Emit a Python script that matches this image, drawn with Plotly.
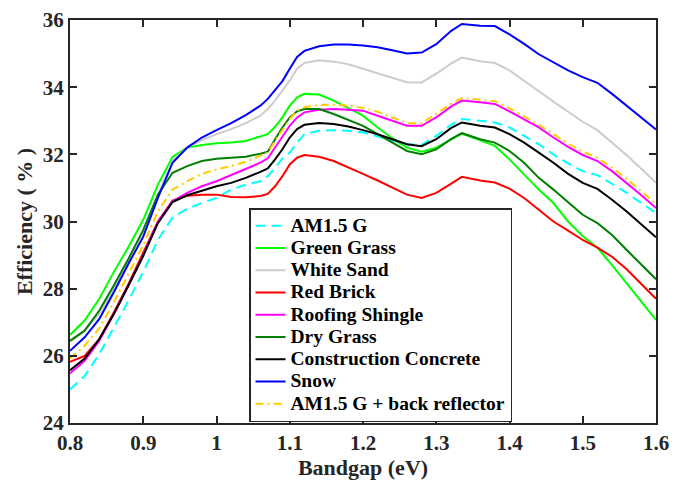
import plotly.graph_objects as go

# Bandgap grid (eV)
bandgap = [0.80, 0.82, 0.84, 0.86, 0.88, 0.90, 0.92, 0.94, 0.96, 0.98,
           1.00, 1.02, 1.04, 1.06, 1.07, 1.08, 1.09, 1.10, 1.11, 1.12,
           1.14, 1.16, 1.18, 1.20, 1.22, 1.24, 1.26, 1.28, 1.30, 1.32,
           1.335, 1.36, 1.38, 1.40, 1.42, 1.44, 1.46, 1.48, 1.50, 1.52,
           1.54, 1.56, 1.58, 1.60]

# Efficiency (%) under each illumination / ground albedo
am15g = [25.0, 25.4, 26.05, 26.85, 27.65, 28.5, 29.45, 30.12, 30.38, 30.55,
         30.7, 30.95, 31.1, 31.2, 31.35, 31.6, 31.88, 32.05, 32.35, 32.6,
         32.7, 32.72, 32.7, 32.65, 32.53, 32.42, 32.3, 32.28, 32.55, 32.88,
         33.05, 33.0, 32.95, 32.8, 32.56, 32.3, 32.0, 31.73, 31.5, 31.38,
         31.12, 30.85, 30.55, 30.25]
green_grass = [26.62, 27.05, 27.7, 28.5, 29.25, 30.05, 31.1, 31.92, 32.2, 32.28,
               32.33, 32.35, 32.4, 32.52, 32.6, 32.82, 33.1, 33.45, 33.7, 33.8,
               33.78, 33.6, 33.38, 33.15, 32.8, 32.48, 32.2, 32.08, 32.2, 32.45,
               32.62, 32.42, 32.25, 31.85, 31.4, 30.95, 30.55, 30.0, 29.57, 29.22,
               28.7, 28.16, 27.61, 27.07]
white_sand = [26.4, 26.75, 27.25, 28.0, 28.85, 29.7, 30.8, 31.8, 32.2, 32.42,
              32.6, 32.75, 32.93, 33.15, 33.35, 33.6, 33.9, 34.2, 34.55, 34.72,
              34.8, 34.76, 34.68, 34.55, 34.42, 34.28, 34.15, 34.14, 34.4, 34.7,
              34.88, 34.77, 34.72, 34.5, 34.2, 33.88, 33.57, 33.27, 32.97, 32.72,
              32.35, 31.97, 31.57, 31.15]
red_brick = [25.82, 26.0, 26.5, 27.3, 28.15, 29.05, 30.0, 30.62, 30.77, 30.8,
             30.8, 30.73, 30.72, 30.76, 30.82, 31.05, 31.35, 31.7, 31.9, 31.98,
             31.93, 31.8, 31.62, 31.42, 31.22, 31.02, 30.8, 30.7, 30.85, 31.12,
             31.33, 31.22, 31.16, 30.98, 30.7, 30.35, 30.0, 29.73, 29.45, 29.22,
             28.95, 28.58, 28.15, 27.7]
roofing_shingle = [25.48, 25.85, 26.45, 27.25, 28.1, 29.0, 30.0, 30.6, 30.85, 31.05,
                   31.2, 31.38, 31.55, 31.75, 31.88, 32.2, 32.52, 32.85, 33.1, 33.25,
                   33.33, 33.35, 33.33, 33.3, 33.15, 33.0, 32.85, 32.85, 33.1, 33.42,
                   33.6, 33.55, 33.5, 33.28, 33.05, 32.8, 32.5, 32.22, 31.98, 31.8,
                   31.5, 31.15, 30.78, 30.4]
dry_grass = [26.45, 26.75, 27.35, 28.1, 28.9, 29.75, 30.8, 31.45, 31.65, 31.8,
             31.87, 31.9, 31.93, 32.02, 32.08, 32.45, 32.8, 33.1, 33.28, 33.35,
             33.35, 33.2, 33.02, 32.85, 32.6, 32.35, 32.1, 32.0, 32.15, 32.45,
             32.63, 32.45, 32.35, 32.1, 31.75, 31.3, 30.95, 30.57, 30.2, 29.95,
             29.6, 29.15, 28.72, 28.28]
concrete = [25.57, 25.92, 26.5, 27.25, 28.1, 28.98, 29.95, 30.58, 30.78, 30.92,
            31.05, 31.15, 31.3, 31.48, 31.58, 31.85, 32.15, 32.5, 32.75, 32.88,
            32.93, 32.9, 32.83, 32.72, 32.6, 32.45, 32.3, 32.24, 32.45, 32.78,
            32.95, 32.85, 32.8, 32.6, 32.35, 32.05, 31.75, 31.42, 31.15, 30.97,
            30.65, 30.3, 29.92, 29.53]
snow = [26.15, 26.55, 27.1, 27.9, 28.75, 29.55, 30.7, 31.75, 32.2, 32.5,
        32.72, 32.93, 33.17, 33.45, 33.65, 33.9, 34.18, 34.55, 34.9, 35.08,
        35.22, 35.27, 35.27, 35.24, 35.19, 35.1, 35.0, 35.03, 35.28, 35.67,
        35.88, 35.83, 35.82, 35.57, 35.29, 34.98, 34.75, 34.5, 34.3, 34.13,
        33.8, 33.45, 33.1, 32.74]
am15g_reflector = [25.92, 26.3, 26.82, 27.6, 28.45, 29.3, 30.3, 30.95, 31.2, 31.42,
                   31.55, 31.65, 31.78, 31.95, 32.05, 32.4, 32.72, 33.05, 33.3, 33.4,
                   33.47, 33.48, 33.45, 33.38, 33.27, 33.1, 32.93, 32.92, 33.2, 33.5,
                   33.68, 33.63, 33.58, 33.37, 33.13, 32.88, 32.6, 32.32, 32.08, 31.9,
                   31.6, 31.27, 30.9, 30.53]

series_names = ["AM1.5 G", "Green Grass", "White Sand", "Red Brick",
                "Roofing Shingle", "Dry Grass", "Construction Concrete",
                "Snow", "AM1.5 G + back reflector"]
series_values = [am15g, green_grass, white_sand, red_brick, roofing_shingle,
                 dry_grass, concrete, snow, am15g_reflector]

x_tick_vals = [0.8, 0.9, 1.0, 1.1, 1.2, 1.3, 1.4, 1.5, 1.6]
x_tick_text = ["0.8", "0.9", "1", "1.1", "1.2", "1.3", "1.4", "1.5", "1.6"]
y_tick_vals = [24, 26, 28, 30, 32, 34, 36]

styles = [
    dict(color="#00FFFF", dash="10px,6px"),
    dict(color="#00FF00", dash="solid"),
    dict(color="#CCCCCC", dash="solid"),
    dict(color="#FF0000", dash="solid"),
    dict(color="#FF00FF", dash="solid"),
    dict(color="#007F00", dash="solid"),
    dict(color="#000000", dash="solid"),
    dict(color="#0000FF", dash="solid"),
    dict(color="#FFCC00", dash="8px,4px,2px,4px"),
]

FONT = "Liberation Serif"
AXIS_COLOR = "#262626"

fig = go.Figure()
for name, vals, st in zip(series_names, series_values, styles):
    fig.add_trace(go.Scatter(
        x=bandgap, y=vals, mode="lines",
        # larger glyphs inside a compact legend row
        name=f'<span style="font-size:19.5px">{name}</span>',
        line=dict(color=st["color"], dash=st["dash"], width=2),
    ))

axis_common = dict(
    showline=True, linecolor=AXIS_COLOR, linewidth=2, mirror="ticks",
    ticks="inside", ticklen=7, tickwidth=1.5, tickcolor=AXIS_COLOR,
    showgrid=False, zeroline=False, ticklabeloverflow="allow",
    tickfont=dict(family=FONT, size=21, color=AXIS_COLOR, weight="bold"),
)

fig.update_xaxes(
    range=[0.8, 1.6], tickvals=x_tick_vals, ticktext=x_tick_text,
    title=dict(text="Bandgap (eV)", standoff=3,
               font=dict(family=FONT, size=22, color=AXIS_COLOR, weight="bold")),
    **axis_common,
)
fig.update_yaxes(
    range=[24, 36], tickvals=y_tick_vals,
    title=dict(text="Efficiency ( % )", standoff=4,
               font=dict(family=FONT, size=22, color=AXIS_COLOR, weight="bold")),
    **axis_common,
)

fig.update_layout(
    width=692, height=486,
    margin=dict(l=70, r=36, t=8, b=63),
    plot_bgcolor="white", paper_bgcolor="white",
    showlegend=True,
    legend=dict(
        x=0.3055, y=0.533, xanchor="left", yanchor="top",
        bgcolor="white", bordercolor=AXIS_COLOR, borderwidth=1.5,
        font=dict(family=FONT, size=14.8, color="#000000", weight="bold"),
        tracegroupgap=0, itemwidth=30,
    ),
)

fig.write_html("out.html")
